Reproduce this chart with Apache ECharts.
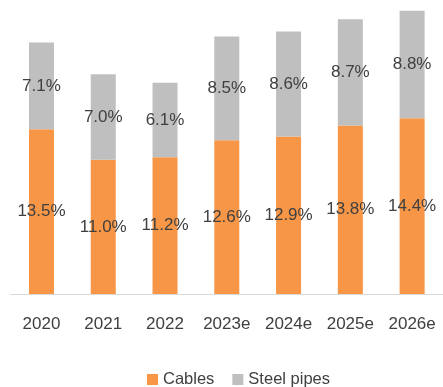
<!DOCTYPE html>
<html>
<head>
<meta charset="utf-8">
<script src="https://cdn.jsdelivr.net/npm/echarts@6/dist/echarts.min.js"></script>
<style>
html,body{margin:0;padding:0;background:#fff;}
#chart{width:443px;height:387px;}
</style>
</head>
<body>
<div id="chart"></div>
<script>
var categories = ['2020','2021','2022','2023e','2024e','2025e','2026e'];
var cables = [13.5, 11.0, 11.2, 12.6, 12.9, 13.8, 14.4];
var steelPipes = [7.1, 7.0, 6.1, 8.5, 8.6, 8.7, 8.8];

var chart = echarts.init(document.getElementById('chart'));
var font = '"Liberation Sans", Arial, sans-serif';
var labelStyle = {
  show: true,
  position: 'inside',
  color: '#404040',
  fontSize: 17,
  fontFamily: font,
  formatter: function (p) { return p.value.toFixed(1) + '%'; }
};
chart.setOption({
  animation: false,
  grid: { left: 10.6, right: -7, top: 1, bottom: 93, containLabel: false },
  legend: {
    data: ['Cables', 'Steel pipes'],
    left: 142,
    top: 366,
    itemWidth: 11,
    itemHeight: 11,
    itemGap: 18,
    icon: 'rect',
    textStyle: { color: '#404040', fontSize: 16.5, fontFamily: font, padding: [0, 0, 0, 0] }
  },
  xAxis: {
    type: 'category',
    data: categories,
    axisLine: { show: true, lineStyle: { color: '#D9D9D9', width: 1 } },
    axisTick: { show: false },
    axisLabel: { color: '#404040', fontSize: 17, fontFamily: font, margin: 22, interval: 0 }
  },
  yAxis: {
    type: 'value',
    min: 0,
    max: 24,
    show: false,
    splitLine: { show: false }
  },
  series: [
    {
      name: 'Cables',
      type: 'bar',
      stack: 'total',
      barWidth: 25,
      data: cables,
      itemStyle: { color: '#F79646' },
      label: labelStyle
    },
    {
      name: 'Steel pipes',
      type: 'bar',
      stack: 'total',
      barWidth: 25,
      data: steelPipes,
      itemStyle: { color: '#BFBFBF' },
      label: labelStyle
    }
  ]
});
</script>
</body>
</html>
